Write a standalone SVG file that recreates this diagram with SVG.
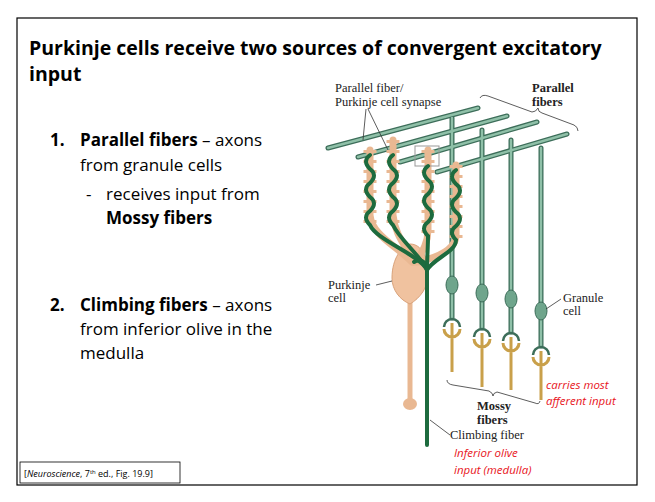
<svg xmlns="http://www.w3.org/2000/svg" width="655" height="502" viewBox="0 0 655 502">
<style>
.t{font-family:"Open Sans","Liberation Sans",sans-serif;fill:#000}
.s{font-family:"Liberation Serif",serif;font-size:12.5px;fill:#222}
.r{font-family:"Open Sans","Liberation Sans",sans-serif;font-size:11.5px;font-style:italic;fill:#e8141c}
.pf{fill:none;stroke:#3d6e5a;stroke-width:5;stroke-linecap:round}
.pfi{fill:none;stroke:#8fc0a8;stroke-width:2.4;stroke-linecap:round}
.den{fill:none;stroke:#e9b892;stroke-width:7;stroke-linecap:round}
.sp{fill:none;stroke:#e9b892;stroke-width:13;stroke-dasharray:3 7}
.cf{fill:none;stroke:#1d6b3e;stroke-width:4;stroke-linecap:round}
.mf{fill:none;stroke:#c9a04a;stroke-width:3}
.lead{fill:none;stroke:#333;stroke-width:0.8}
</style>
<rect x="17" y="18" width="620" height="467" fill="#fff" stroke="#000" stroke-width="1.2"/>
<g id="text">
<text class="t" x="29" y="55" font-size="19.5" font-weight="bold">Purkinje cells receive two sources of convergent excitatory</text>
<text class="t" x="29" y="81" font-size="19.5" font-weight="bold">input</text>
<text class="t" x="50" y="146" font-size="17" font-weight="bold">1.</text>
<text class="t" x="80" y="146" font-size="17"><tspan font-weight="bold">Parallel fibers</tspan> – axons</text>
<text class="t" x="80" y="171" font-size="17">from granule cells</text>
<text class="t" x="86" y="200" font-size="17">-</text>
<text class="t" x="106" y="200" font-size="17">receives input from</text>
<text class="t" x="106" y="224" font-size="17" font-weight="bold">Mossy fibers</text>
<text class="t" x="50" y="311" font-size="17" font-weight="bold">2.</text>
<text class="t" x="80" y="311" font-size="17"><tspan font-weight="bold">Climbing fibers</tspan> – axons</text>
<text class="t" x="80" y="335" font-size="17">from inferior olive in the</text>
<text class="t" x="80" y="359" font-size="17">medulla</text>
</g>
<g id="citation">
<rect x="20" y="462" width="160" height="21" fill="#fff" stroke="#000" stroke-width="0.8"/>
<text x="24" y="477" font-family="Open Sans, Liberation Sans, sans-serif" font-size="9">[<tspan font-style="italic">Neuroscience</tspan>, 7<tspan font-size="6" dy="-3">th</tspan><tspan dy="3"> ed., Fig. 19.9]</tspan></text>
</g>
<g id="granule">
<g class="pf"><path d="M452 118V318M482 130V328M511 140V332M541 148V346"/><path d="M328 148L478 108M358 157L507 116M400 162L537 122M437 172L567 134"/></g>
<g class="pfi"><path d="M452 118V318M482 130V328M511 140V332M541 148V346"/><path d="M328 148L478 108M358 157L507 116M400 162L537 122M437 172L567 134"/></g>
<g fill="#6fa58c" stroke="#3d6e5a"><ellipse cx="452" cy="285" rx="6" ry="9"/><ellipse cx="482" cy="293" rx="6" ry="9"/><ellipse cx="511" cy="299" rx="6" ry="9"/><ellipse cx="541" cy="311" rx="6" ry="9"/></g>
<g fill="none" stroke="#3d6e5a" stroke-width="2.5"><path d="M444 327a8 8 0 0 1 16 0"/><path d="M474 337a8 8 0 0 1 16 0"/><path d="M503 341a8 8 0 0 1 16 0"/><path d="M533 355a8 8 0 0 1 16 0"/></g>
<g class="mf"><path d="M444 329a8 8 0 0 0 16 0M452 323V372"/><path d="M474 339a8 8 0 0 0 16 0M482 333V387"/><path d="M503 343a8 8 0 0 0 16 0M511 337V390"/><path d="M533 357a8 8 0 0 0 16 0M541 351V400"/></g>
</g>
<g id="purkinje">
<path d="M410 300V400" stroke="#e9b892" stroke-width="5"/>
<ellipse cx="410" cy="404" rx="7" ry="6" fill="#e9b892"/>
<path d="M392 278c0-20 10-32 18-34 12 0 18 14 18 30 0 14-8 24-18 30-10-4-18-14-18-26z" fill="#f0c29f" stroke="#d9a27a"/>
<path class="den" d="M370 150V215C372 235 395 245 412 262M393 140V215C395 235 405 245 414 262M428 150V230C428 245 420 255 416 262M456 165V235C456 250 435 258 418 262"/>
<path class="sp" d="M370 150V225M393 140V225M428 150V235M456 165V240"/>
<rect x="415" y="146" width="24" height="20" fill="none" stroke="#999" stroke-width="1"/>
</g>
<g id="climbing">
<path class="cf" d="M427 445V270C427 262 420 258 414 262"/>
<path class="cf" d="M427 270C420 255 376 240 370 225q-8-8 0-14q8-8 0-14q-8-8 0-14q8-8 0-14q-8-8 0-14"/>
<path class="cf" d="M427 270C420 255 400 240 393 225q-8-8 0-14q8-8 0-14q-8-8 0-14q8-8 0-14q-8-8 0-14"/>
<path class="cf" d="M427 270C427 258 428 248 428 236q-8-8 0-14q8-8 0-14q-8-8 0-14q8-8 0-14q-8-8 0-14"/>
<path class="cf" d="M427 270C434 258 456 252 456 240q-8-8 0-14q8-8 0-14q-8-8 0-14q8-8 0-14q-8-8 0-14"/>
</g>
<g id="labels">
<text class="s" x="335" y="92">Parallel fiber/</text>
<text class="s" x="335" y="106">Purkinje cell synapse</text>
<path class="lead" d="M366 109L363 140M368 109L388 150"/>
<text class="s" x="532" y="92" font-weight="bold">Parallel</text>
<text class="s" x="532" y="106" font-weight="bold">fibers</text>
<path class="lead" d="M480 98q2-4 8-2l44 16q4 0 6-4q0 4 4 5l32 12q4 2 4 6"/>
<text class="s" x="328" y="289">Purkinje</text>
<text class="s" x="328" y="302">cell</text>
<path class="lead" d="M376 285L392 281"/>
<text class="s" x="563" y="302">Granule</text>
<text class="s" x="563" y="315">cell</text>
<path class="lead" d="M561 299L546 309"/>
<path class="lead" d="M447 380q0 4 6 5l36 6q4 2 4 5q0-3 4-4l38 11q4 2 5-2"/>
<text class="s" x="477" y="410" font-weight="bold">Mossy</text>
<text class="s" x="477" y="424" font-weight="bold">fibers</text>
<text class="s" x="450" y="439">Climbing fiber</text>
<path class="lead" d="M430 420L450 435"/>
<text class="r" x="454" y="457">Inferior olive</text>
<text class="r" x="454" y="474">input (medulla)</text>
<text class="r" x="546" y="389">carries most</text>
<text class="r" x="546" y="405">afferent input</text>
</g>
</svg>
